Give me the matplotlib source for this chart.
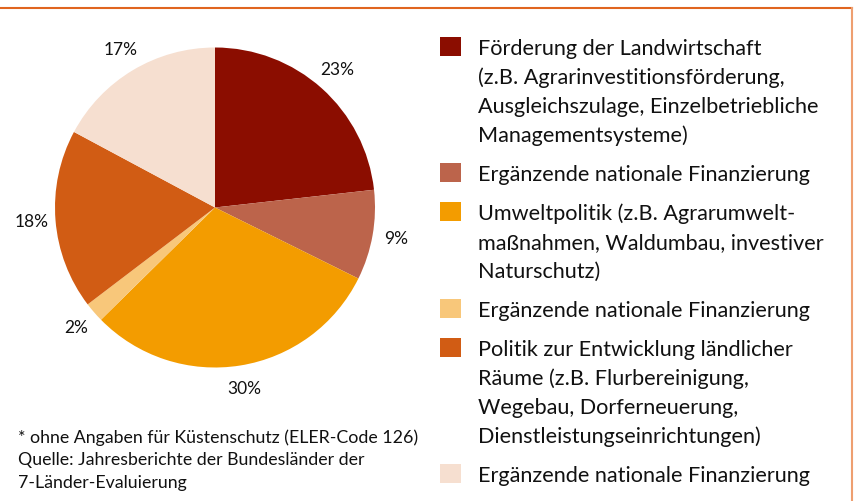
import matplotlib.pyplot as plt
from matplotlib.patches import Rectangle
from matplotlib.lines import Line2D

plt.rcParams['font.family'] = ['Lato', 'DejaVu Sans']

# === DATA ===
shares = [23, 9, 30, 2, 18, 17]
colors = ['#8B0D00', '#BC644B', '#F39C00', '#F8C77A', '#D15C14', '#F6DFD0']
legend_labels = [
    "Förderung der Landwirtschaft\n(z.B. Agrarinvestitionsförderung,\nAusgleichszulage, Einzelbetriebliche\nManagementsysteme)",
    "Ergänzende nationale Finanzierung",
    "Umweltpolitik (z.B. Agrarumwelt-\nmaßnahmen, Waldumbau, investiver\nNaturschutz)",
    "Ergänzende nationale Finanzierung",
    "Politik zur Entwicklung ländlicher\nRäume (z.B. Flurbereinigung,\nWegebau, Dorferneuerung,\nDienstleistungseinrichtungen)",
    "Ergänzende nationale Finanzierung",
]
footnote = ["* ohne Angaben für Küstenschutz (ELER-Code 126)",
            "Quelle: Jahresberichte der Bundesländer der",
            "7-Länder-Evaluierung"]

W, H = 856, 501
fig = plt.figure(figsize=(W / 100, H / 100), dpi=100)


def fy(py):
    # pixel row (from top) -> figure fraction
    return 1 - py / H


# === PIE ===
cx, cy, r = 215, 207.5, 160
ax = fig.add_axes([(cx - r) / W, (H - cy - r) / H, 2 * r / W, 2 * r / H])
wedges, texts, autotexts = ax.pie(
    shares, colors=colors, startangle=90, counterclock=False,
    autopct='%.0f%%', pctdistance=1.15, radius=1,
    wedgeprops=dict(linewidth=0))
for t in autotexts:
    t.set_fontsize(12.5)
    t.set_color('#111111')
ax.set_xlim(-1, 1)
ax.set_ylim(-1, 1)
ax.axis('off')

# === LEGEND ===
line_h = 29
baseline = 55
for color, label in zip(colors, legend_labels):
    fig.patches.append(Rectangle((440 / W, fy(baseline + 1)), 21 / W, 19 / H,
                                 transform=fig.transFigure, facecolor=color,
                                 edgecolor='none'))
    for line in label.split('\n'):
        fig.text(478 / W, fy(baseline), line, fontsize=15.6, va='baseline',
                 ha='left', color='#111111')
        baseline += line_h
    baseline += 10

# === FOOTNOTE ===
fb = 443
for line in footnote:
    fig.text(18 / W, fy(fb), line, fontsize=12.8, va='baseline', ha='left',
             color='#111111')
    fb += 22.5

# === FRAME ===
fig.lines.append(Line2D([0, 852 / W], [fy(8), fy(8)], transform=fig.transFigure,
                        color='#E0651F', linewidth=1.5))
fig.lines.append(Line2D([852 / W, 852 / W], [fy(8), 0], transform=fig.transFigure,
                        color='#EE9F70', linewidth=1.5))

fig.savefig('out.png', dpi=100)
